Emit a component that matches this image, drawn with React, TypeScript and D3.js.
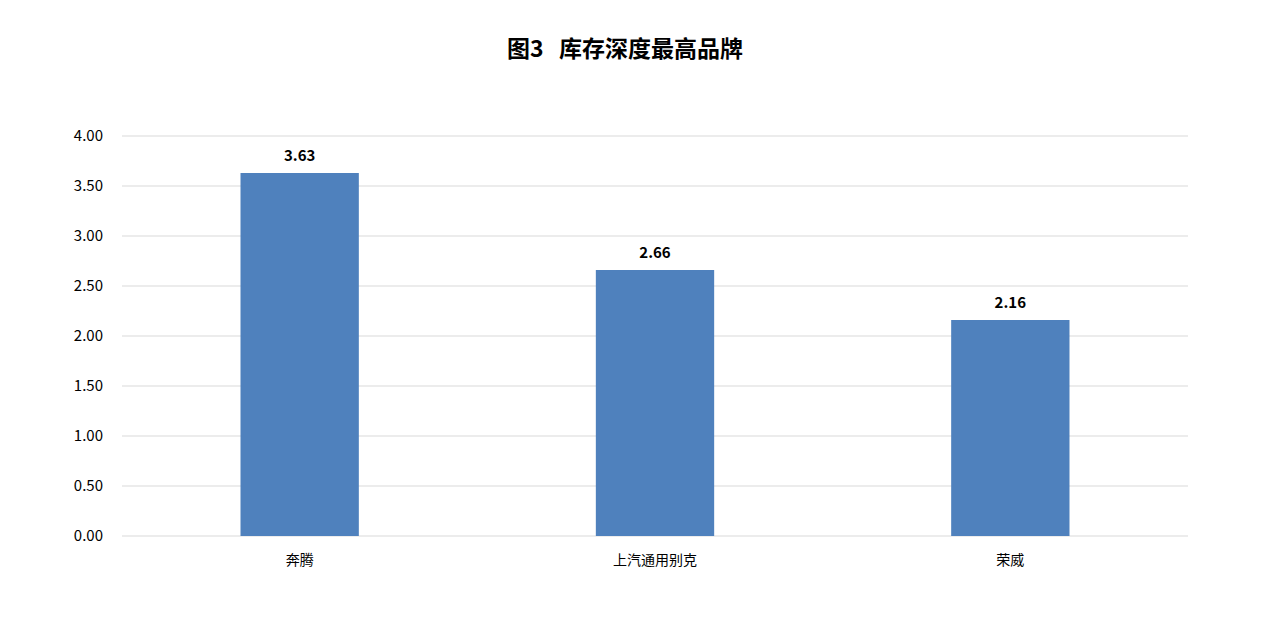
import React from 'react';
import * as d3 from 'd3';

const categories = ['奔腾', '上汽通用别克', '荣威'];
const values = [3.63, 2.66, 2.16];
const yTicks = [0, 0.5, 1, 1.5, 2, 2.5, 3, 3.5, 4];

const WIDTH = 1267,
    HEIGHT = 621;

const MARGIN = {
    LEFT: 122,
    RIGHT: 79,
    TOP: 136,
    BOTTOM: 85
};

const FONT = '"Noto Sans CJK SC", "Microsoft YaHei", "Noto Sans", sans-serif';

const App = () => {
    const innerW = WIDTH - MARGIN.LEFT - MARGIN.RIGHT,
        innerH = HEIGHT - MARGIN.TOP - MARGIN.BOTTOM;

    // bars take about a third of each category slot
    const xScale = d3.scaleBand<string>().domain(categories).range([0, innerW]).paddingInner(0.667).paddingOuter(0.667 / 2);
    const yScale = d3.scaleLinear().domain([0, 4]).range([innerH, 0]);

    return (
        <div style={{ position: 'fixed', left: 0, top: 0, width: WIDTH, height: HEIGHT, background: '#fff' }}>
            <svg width={WIDTH} height={HEIGHT} style={{ fontFamily: FONT }}>
                <text x={625} y={57} textAnchor='middle' fontSize={23} fontWeight='bold' fill='#000' style={{ whiteSpace: 'pre' }}>{'图3   库存深度最高品牌'}</text>
                <g transform={`translate(${[MARGIN.LEFT, MARGIN.TOP]})`}>
                    {yTicks.map(t => (
                        <g key={`tick-${t}`}>
                            <line x1={0} x2={innerW} y1={yScale(t)} y2={yScale(t)} stroke='#d9d9d9' strokeWidth={1} />
                            <text x={-19} y={yScale(t)} dy='0.35em' textAnchor='end' fontSize={15} fill='#000'>{t.toFixed(2)}</text>
                        </g>
                    ))}
                    {categories.map((c, i) => {
                        const x = xScale(c) as number;
                        const bw = xScale.bandwidth();
                        return (
                            <g key={`bar-${c}`}>
                                <rect x={x} y={yScale(values[i])} width={bw} height={innerH - yScale(values[i])} fill='#4f81bd' />
                                <text x={x + bw / 2} y={yScale(values[i]) - 12} textAnchor='middle' fontSize={15} fontWeight='bold' fill='#000'>{values[i].toFixed(2)}</text>
                                <text x={x + bw / 2} y={innerH + 29} textAnchor='middle' fontSize={14} fill='#000'>{c}</text>
                            </g>
                        );
                    })}
                </g>
            </svg>
        </div>
    );
};

export default App;
